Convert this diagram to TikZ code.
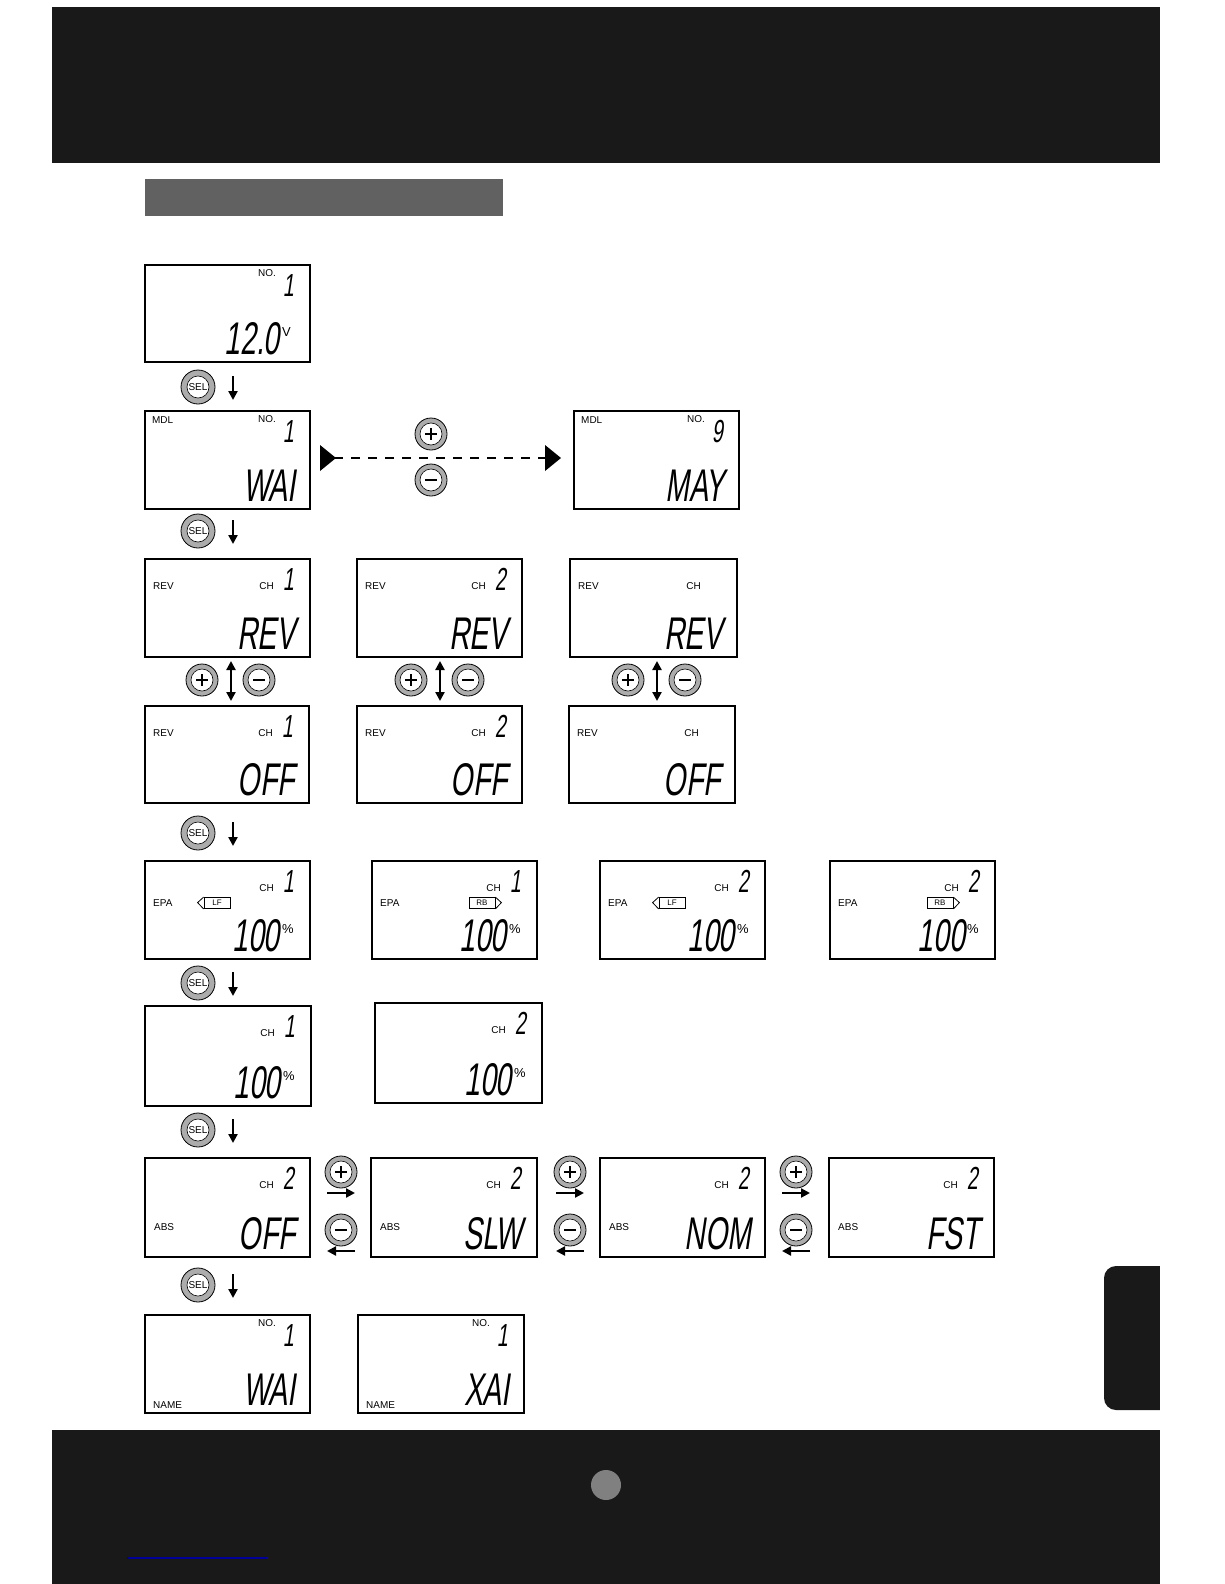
\documentclass[tikz,border=0pt]{standalone}
\usepackage{fontspec}
\setmainfont{Liberation Sans}
\newfontfamily\segfont[FakeSlant=0.15,FakeStretch=0.62]{Liberation Sans}
\usetikzlibrary{calc,arrows.meta}
\tikzset{
 lcdframe/.style={draw,line width=2.4bp,inner sep=0,outer sep=0},
 big/.style={font=\segfont\fontsize{46}{46}\selectfont,inner sep=0},
 digit/.style={font=\segfont\fontsize{32}{32}\selectfont,inner sep=0},
 sm/.style={font=\fontsize{10}{10}\selectfont,inner sep=0},
 unit/.style={font=\fontsize{13}{13}\selectfont,inner sep=0},
 tip/.style={Triangle[length=9bp,width=9bp]},
 arr/.style={-{Triangle[length=9bp,width=9bp]},line width=2.4bp},
}
\newcommand\lcdcore[8]{%
 \node[lcdframe,anchor=north west,minimum width={(#4-#2)*1bp},minimum height={(#5-#3)*1bp}] (#1) at (#2,#3) {};
 \node[digit,anchor=north east] (#1d) at ($(#1.north east)+(-16,9)$) {#6};
 \if\relax\detokenize{#8}\relax
  \node[big,anchor=base east] (#1b) at ($(#1.south east)+(-14,-8)$) {#7};
 \else
  \node[big,anchor=base east] (#1b) at ($(#1.south east)+(-30,-8)$) {#7};
  \node[unit,anchor=base west] (#1u) at ($(#1b.base east)+(2,-18)$) {#8};
 \fi}
\newcommand\lcdNO[8]{\lcdcore{#1}{#2}{#3}{#4}{#5}{#6}{#7}{#8}
 \node[sm,anchor=base east] (#1s) at ($(#1.north east)+(-34,11)$) {NO.};}
\newcommand\lcdCH[8]{\lcdcore{#1}{#2}{#3}{#4}{#5}{#6}{#7}{#8}
 \node[sm,anchor=base east] (#1s) at ($(#1.north east)+(-36,30)$) {CH};}
\newcommand\selbtn[3]{%
 \node[circle,draw,line width=0.8bp,fill=gray!65,minimum size=34bp,inner sep=0] (#1) at (#2,#3) {};
 \node[circle,draw,line width=0.6bp,fill=white,minimum size=22bp,inner sep=0,font=\fontsize{10}{10}\selectfont] at (#1) {SEL};}
\newcommand\pmbtn[4]{%
 \node[circle,draw,line width=0.8bp,fill=gray!65,minimum size=32bp,inner sep=0] (#1) at (#2,#3) {};
 \node[circle,draw,line width=0.6bp,fill=white,minimum size=22bp,inner sep=0] (#1i) at (#1) {};
 \draw[line width=2.2bp] ($(#1)+(-6,0)$) -- ($(#1)+(6,0)$);
 \if#4p\draw[line width=2.2bp] ($(#1)+(0,-6)$) -- ($(#1)+(0,6)$);\fi}
\newcommand\selstep[2]{%
 \selbtn{s#1}{198}{#2}
 \coordinate (s#1a) at (233,#2-11); \coordinate (s#1b) at (233,#2+13);
 \draw[arr] (s#1a) -- (s#1b);}
\begin{document}
\begin{tikzpicture}[x=1bp,y=-1bp]
\useasboundingbox (0,0) rectangle (1224,1584);
\fill[white] (0,0) rectangle (1224,1584);
\fill[black!90] (52,7) rectangle (1160,163);
\fill[black!62] (145,179) rectangle (503,216);
\fill[black!90] (52,1430) rectangle (1160,1584);
\fill[black!50] (606,1485) circle (15);
\fill[black!90,rounded corners=12bp] (1104,1266) rectangle (1175,1410);
\fill[white] (1160,1260) rectangle (1180,1420);
\draw[blue!60!black,line width=2bp] (127,1558) -- (267,1558);
% row 1
\lcdNO{a}{145}{265}{310}{362}{1}{12.0}{V}
\selstep{A}{387}
% row 2
\lcdNO{m1}{145}{411}{310}{509}{1}{WAI}{}
\node[sm,anchor=north west] at ($(m1.north west)+(7,5)$) {MDL};
\lcdNO{m9}{574}{411}{739}{509}{9}{MAY}{}
\node[sm,anchor=north west] at ($(m9.north west)+(7,5)$) {MDL};
\coordinate (dl) at (320,458); \coordinate (dr) at (561,458);
\draw[line width=2.4bp,dash pattern=on 9bp off 8bp] ($(dl)+(14,0)$) -- ($(dr)+(-14,0)$);
\fill (dl) ++(0,-13) -- ++(16,13) -- ++(-16,13) -- cycle;
\fill (dr) ++(-16,-13) -- ++(16,13) -- ++(-16,13) -- cycle;
\pmbtn{mp}{431}{434}{p}
\pmbtn{mm}{431}{480}{m}
\selstep{B}{531}
% REV rows
\lcdCH{r1}{145}{559}{310}{657}{1}{REV}{}
\lcdCH{r2}{357}{559}{522}{657}{2}{REV}{}
\lcdCH{r3}{570}{559}{737}{657}{}{REV}{}
\lcdCH{o1}{145}{706}{309}{803}{1}{OFF}{}
\lcdCH{o2}{357}{706}{522}{803}{2}{OFF}{}
\lcdCH{o3}{569}{706}{735}{803}{}{OFF}{}
\foreach \n in {r1,r2,r3,o1,o2,o3}{\node[sm,anchor=base west] at ($(\n.north west)+(8,30)$) {REV};}
\foreach \n/\x/\p/\m in {1/231/202/259,2/440/411/468,3/657/628/685}{
 \pmbtn{rp\n}{\p}{680}{p}
 \pmbtn{rm\n}{\m}{680}{m}
 \coordinate (ru\n) at (\x,661); \coordinate (rd\n) at (\x,701);
 \draw[{Triangle[length=9bp,width=9bp]}-{Triangle[length=9bp,width=9bp]},line width=2.4bp] (ru\n) -- (rd\n);
}
\selstep{C}{833}
% EPA row
\lcdCH{e1}{145}{861}{310}{959}{1}{100}{\%}
\lcdCH{e2}{372}{861}{537}{959}{1}{100}{\%}
\lcdCH{e3}{600}{861}{765}{959}{2}{100}{\%}
\lcdCH{e4}{830}{861}{995}{959}{2}{100}{\%}
\foreach \n/\t/\l in {e1/LF/1,e2/RB/0,e3/LF/1,e4/RB/0}{
 \node[sm,anchor=base west] at ($(\n.north west)+(8,45)$) {EPA};
 \ifnum\l=1
  \node[draw,line width=0.8bp,font=\fontsize{8}{8}\selectfont,minimum width=26bp,minimum height=11bp,inner sep=0] (\n t) at ($(\n.north west)+(72,42)$) {\t};
  \draw[line width=0.8bp] (\n t.north west) -- ++(-6,5.5) -- (\n t.south west);
 \else
  \node[draw,line width=0.8bp,font=\fontsize{8}{8}\selectfont,minimum width=26bp,minimum height=11bp,inner sep=0] (\n t) at ($(\n.north west)+(110,42)$) {\t};
  \draw[line width=0.8bp] (\n t.north east) -- ++(6,5.5) -- (\n t.south east);
 \fi}
\selstep{D}{983}
\lcdCH{p1}{145}{1006}{311}{1106}{1}{100}{\%}
\lcdCH{p2}{375}{1003}{542}{1103}{2}{100}{\%}
\selstep{E}{1130}
% ABS
\lcdCH{b1}{145}{1158}{310}{1257}{2}{OFF}{}
\lcdCH{b2}{371}{1158}{537}{1257}{2}{SLW}{}
\lcdCH{b3}{600}{1158}{765}{1257}{2}{NOM}{}
\lcdCH{b4}{829}{1158}{994}{1257}{2}{FST}{}
\foreach \n in {b1,b2,b3,b4}{\node[sm,anchor=base west] at ($(\n.north west)+(9,72)$) {ABS};}
\foreach \n/\x in {1/341,2/570,3/796}{
 \pmbtn{bp\n}{\x}{1172}{p}
 \pmbtn{bm\n}{\x}{1230}{m}
 \coordinate (br\n) at (\x-14,1193); \coordinate (bs\n) at (\x+14,1193);
 \draw[arr] (br\n) -- (bs\n);
 \coordinate (bl\n) at (\x+14,1251); \coordinate (bk\n) at (\x-14,1251);
 \draw[arr] (bl\n) -- (bk\n);
}
\selstep{F}{1285}
\lcdNO{n1}{145}{1315}{310}{1413}{1}{WAI}{}
\lcdNO{n2}{358}{1315}{524}{1413}{1}{XAI}{}
\foreach \n in {n1,n2}{\node[sm,anchor=base west] at ($(\n.south west)+(8,-5)$) {NAME};}
\end{tikzpicture}
\end{document}
